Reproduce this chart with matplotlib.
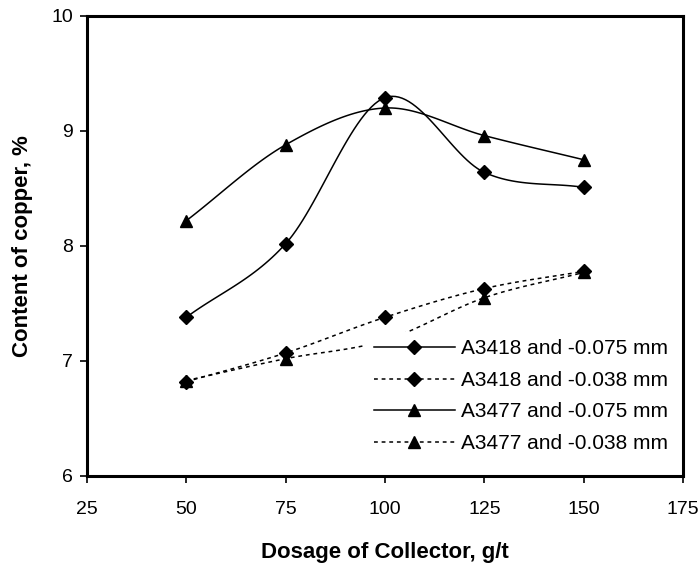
import numpy as np
import matplotlib
matplotlib.use("Agg")
from matplotlib import pyplot as plt

plt.rcParams['font.family'] = ['Liberation Sans', 'DejaVu Sans']

dosage = [50, 75, 100, 125, 150]
a3418_075 = [7.38, 8.02, 9.29, 8.64, 8.51]
a3418_038 = [6.82, 7.07, 7.38, 7.63, 7.78]
a3477_075 = [8.22, 8.88, 9.20, 8.96, 8.75]
a3477_038 = [6.83, 7.02, 7.18, 7.55, 7.77]

x_ticks = [25, 50, 75, 100, 125, 150, 175]
y_ticks = [6, 7, 8, 9, 10]


def smooth(x, y, n=30):
    # Excel style smoothed line (Catmull-Rom through the points)
    x = np.asarray(x, float)
    y = np.asarray(y, float)
    px = np.concatenate([[2 * x[0] - x[1]], x, [2 * x[-1] - x[-2]]])
    py = np.concatenate([[2 * y[0] - y[1]], y, [2 * y[-1] - y[-2]]])
    t = np.linspace(0, 1, n)
    xs, ys = [], []
    for i in range(1, len(px) - 2):
        for p, out in ((px, xs), (py, ys)):
            p0, p1, p2, p3 = p[i - 1], p[i], p[i + 1], p[i + 2]
            out.extend(0.5 * (2 * p1 + (-p0 + p2) * t
                              + (2 * p0 - 5 * p1 + 4 * p2 - p3) * t ** 2
                              + (-p0 + 3 * p1 - 3 * p2 + p3) * t ** 3))
    return xs, ys


fig = plt.figure(figsize=(6.98, 5.67), dpi=100)
ax = fig.add_axes([0.1246, 0.1605, 0.854, 0.8113])

series = [
    (a3418_075, '-', 'D', 7, "A3418 and -0.075 mm"),
    (a3418_038, (0, (2.5, 2.5)), 'D', 7, "A3418 and -0.038 mm"),
    (a3477_075, '-', '^', 9, "A3477 and -0.075 mm"),
    (a3477_038, (0, (2.5, 2.5)), '^', 9, "A3477 and -0.038 mm"),
]
for vals, ls, mk, ms, lab in series:
    sx, sy = smooth(dosage, vals)
    ax.plot(sx, sy, color='black', linestyle=ls, linewidth=1.1)
    ax.plot(dosage, vals, linestyle='none', marker=mk, markersize=ms, color='black')
    ax.plot([], [], color='black', linestyle=ls, linewidth=1.1,
            marker=mk, markersize=ms, label=lab)

ax.set_xlim(25, 175)
ax.set_ylim(6, 10)
ax.set_xticks(x_ticks)
ax.set_yticks(y_ticks)
ax.tick_params(direction='out', length=5, width=1.2, labelsize=14, pad=13)
ax.tick_params(axis='y', pad=5)
for sp in ax.spines.values():
    sp.set_linewidth(2.2)

ax.set_xlabel("Dosage of Collector, g/t", fontsize=16, fontweight='bold', labelpad=17)
ax.set_ylabel("Content of copper, %", fontsize=16, fontweight='bold', labelpad=13)

leg = ax.legend(loc='upper right', bbox_to_anchor=(0.987, 0.313), frameon=True,
                fontsize=15, handlelength=3.9, handletextpad=0.3,
                labelspacing=0.6, borderaxespad=0, borderpad=0.35)
leg.get_frame().set_edgecolor('none')
leg.get_frame().set_facecolor('white')
leg.get_frame().set_alpha(1)

fig.savefig("out.png", dpi=100)
